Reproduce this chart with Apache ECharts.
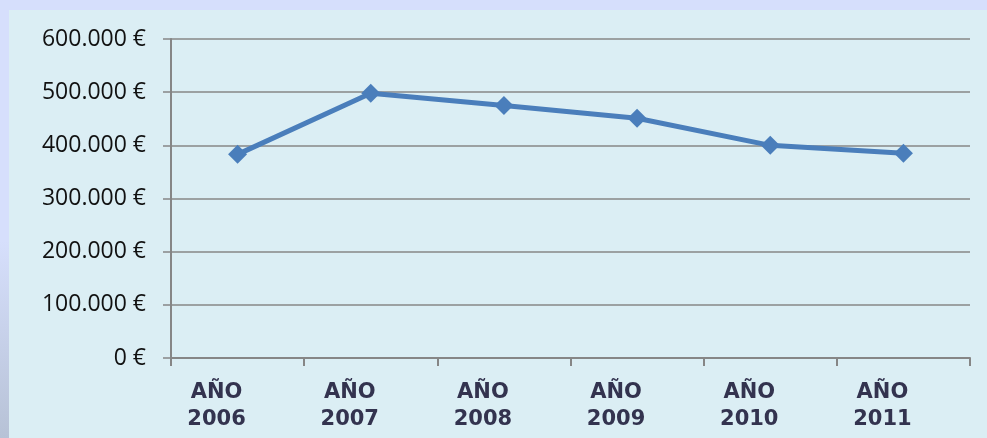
<!DOCTYPE html>
<html>
<head>
<meta charset="utf-8">
<script src="https://cdn.jsdelivr.net/npm/echarts@6/dist/echarts.min.js"></script>
<style>
  html, body { margin: 0; padding: 0; }
  body {
    width: 987px; height: 438px; overflow: hidden;
    background: linear-gradient(to bottom, #d6dffc 0%, #d6dffc 55%, #b7c2d6 100%);
  }
  #frame { position: absolute; left: 0; top: 0; width: 987px; height: 10px; background: #d6dffc; }
  #panel { position: absolute; left: 9px; top: 10px; width: 978px; height: 428px; background: #dbeef4; }
  #main { position: absolute; left: 0; top: 0; width: 987px; height: 438px; }
</style>
</head>
<body>
<div id="frame"></div>
<div id="panel"></div>
<div id="main"></div>
<script>
    // datos
    var categorias = ['AÑO\n2006', 'AÑO\n2007', 'AÑO\n2008', 'AÑO\n2009', 'AÑO\n2010', 'AÑO\n2011'];
    var importes = [383000, 498000, 475000, 451000, 400000, 385000];
    var ejeY = [0, 100000, 200000, 300000, 400000, 500000, 600000];

    function euros(v) {
        var s = String(v).replace(/\B(?=(\d{3})+(?!\d))/g, '.');
        return s + ' €';
    }

    var myChart = echarts.init(document.getElementById('main'));
    var option = {
        backgroundColor: 'transparent',
        animation: false,
        grid: {
            left: 171,
            right: 17,
            top: 39,
            bottom: 80
        },
        xAxis: {
            type: 'category',
            data: categorias,
            boundaryGap: true,
            axisLine: { lineStyle: { color: '#868686', width: 2 } },
            axisTick: { show: true, length: 8, lineStyle: { color: '#868686', width: 2 } },
            axisLabel: {
                margin: 21,
                fontFamily: 'DejaVu Sans',
                fontWeight: 'bold',
                fontSize: 21,
                lineHeight: 27,
                color: '#33334f',
                padding: [0, 42, 0, 0]
            }
        },
        yAxis: {
            type: 'value',
            min: ejeY[0],
            max: ejeY[ejeY.length - 1],
            interval: ejeY[1] - ejeY[0],
            axisLine: { show: true, lineStyle: { color: '#868686', width: 2 } },
            axisTick: { show: true, length: 8, lineStyle: { color: '#868686', width: 1.5 } },
            splitLine: { lineStyle: { color: '#878787', width: 1.5 } },
            axisLabel: {
                margin: 25,
                fontFamily: 'Open Sans',
                fontSize: 23,
                color: '#111111',
                formatter: euros
            }
        },
        series: [{
            type: 'line',
            data: importes,
            symbol: 'diamond',
            symbolSize: [19, 19],
            lineStyle: { color: '#4a7ebb', width: 5 },
            itemStyle: { color: '#4a7ebb' }
        }]
    };
    myChart.setOption(option);
</script>
</body>
</html>
